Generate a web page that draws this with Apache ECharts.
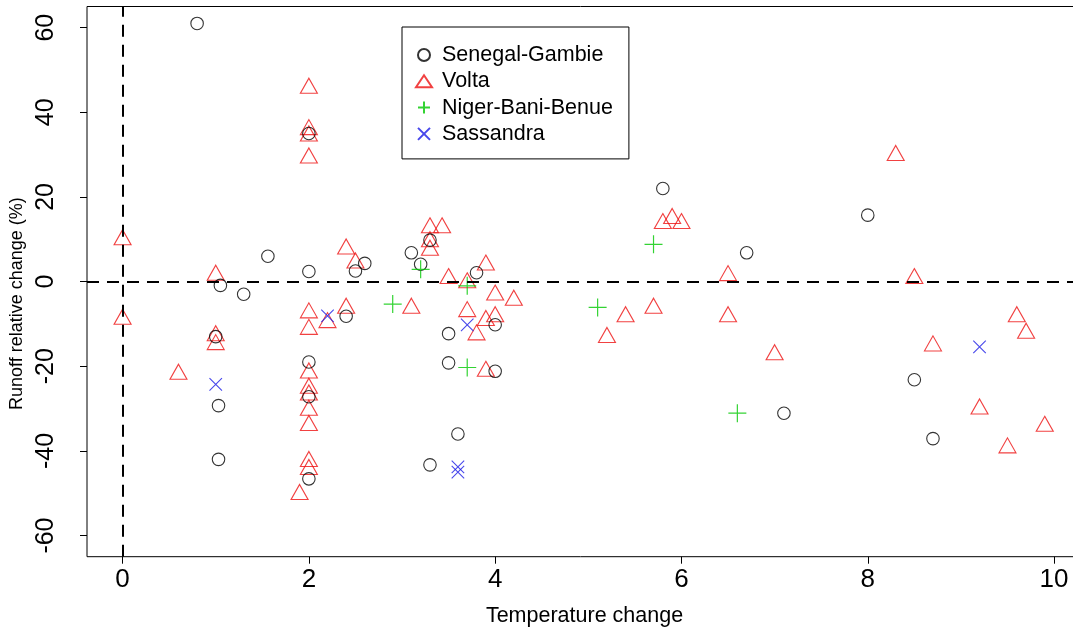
<!DOCTYPE html>
<html>
<head>
<meta charset="utf-8">
<script src="https://cdn.jsdelivr.net/npm/echarts@6/dist/echarts.min.js"></script>
<style>
html,body{margin:0;padding:0;background:#fff;}
#chart{width:1073px;height:632px;}
</style>
</head>
<body>
<div id="chart"></div>
<script>
// ---- data (temperature change, runoff relative change %) ----
const xTicks = [0, 2, 4, 6, 8, 10];
const yTicks = [-60, -40, -20, 0, 20, 40, 60];

const senegalX = [0.8, 2, 1.56, 2, 2.6, 2.5, 1.05, 1.3, 1, 1.03, 1.03, 2, 2, 2, 2.4, 3.1, 3.3, 3.2, 3.8, 4, 3.5, 3.5, 4, 3.6, 3.3, 5.8, 6.7, 7.1, 8, 8.5, 8.7];
const senegalY = [61, 35, 6, 2.4, 4.3, 2.5, -0.9, -3, -13, -29.3, -42, -19, -27.2, -46.6, -8.2, 6.8, 9.8, 4.1, 2.1, -10.2, -12.3, -19.2, -21.2, -36, -43.3, 22, 6.8, -31.1, 15.7, -23.2, -37.1];

const voltaX = [2, 2, 2, 2, 0, 2.4, 2.5, 1, 0, 1, 1, 0.6, 2, 2, 2, 2, 2, 2, 2, 2, 2, 1.9, 2.2, 2.4, 3.3, 3.43, 3.3, 3.3, 3.5, 3.7, 3.9, 3.1, 4, 4.2, 3.7, 3.8, 3.9, 4, 3.9, 5.8, 5.9, 6, 6.5, 5.4, 5.7, 5.2, 6.5, 7, 8.3, 8.5, 9.6, 9.7, 8.7, 9.2, 9.9, 9.5];
const voltaY = [46.3, 36.5, 35, 29.8, 10.5, 8.3, 5, 2.1, -8.3, -12.2, -14.3, -21.3, -6.8, -10.7, -21, -24.6, -26.2, -29.8, -33.4, -41.9, -43.8, -49.7, -9.1, -5.7, 13.3, 13.3, 10, 8, 1.3, 0.3, 4.5, -5.7, -2.6, -3.8, -6.5, -12, -8.6, -7.7, -20.6, 14.3, 15.5, 14.3, 2, -7.7, -5.7, -12.6, -7.7, -16.7, 30.4, 1.3, -7.7, -11.6, -14.6, -29.5, -33.6, -38.7];

const nigerX = [3.2, 3.7, 2.9, 5.1, 5.7, 3.7, 6.6];
const nigerY = [2.9, -1, -5.3, -6.1, 8.8, -20.3, -31.1];

const sassandraX = [1, 2.2, 3.7, 3.6, 3.6, 9.2];
const sassandraY = [-24.3, -8.1, -10.2, -43.8, -45, -15.4];

const seriesNames = ['Senegal-Gambie', 'Volta', 'Niger-Bani-Benue', 'Sassandra'];
const axisTitles = { x: 'Temperature change', y: 'Runoff relative change (%)' };

function zip(xs, ys) { return xs.map((x, i) => [x, ys[i]]); }

const FONT = '"Liberation Sans", Arial, sans-serif';
const chart = echarts.init(document.getElementById('chart'), null, { renderer: 'canvas' });

const option = {
  animation: false,
  backgroundColor: '#fff',
  grid: {
    left: 87, top: 6.5, width: 995, height: 550.2,
    outerBoundsMode: 'none',
    containLabel: false,
    show: true, borderColor: '#000', borderWidth: 1, backgroundColor: 'transparent'
  },
  legend: {
    left: 402, top: 27,
    orient: 'vertical',
    data: seriesNames,
    itemWidth: 16, itemHeight: 12,
    itemGap: 4.3,
    padding: [17, 16, 14, 13],
    borderColor: '#000', borderWidth: 1, borderRadius: 0,
    backgroundColor: '#fff',
    textStyle: { fontFamily: FONT, fontSize: 21.5, color: '#000', lineHeight: 22, padding: [0, 0, 0, 5] }
  },
  xAxis: {
    type: 'value', min: -0.382, max: 10.3,
    name: axisTitles.x, nameLocation: 'middle', nameGap: 48,
    nameTextStyle: { fontFamily: FONT, fontSize: 21.5, color: '#000' },
    axisLine: { show: false, onZero: false },
    splitLine: { show: false },
    axisTick: { show: true, customValues: xTicks, length: 7, lineStyle: { color: '#000' } },
    axisLabel: { customValues: xTicks, fontFamily: FONT, fontSize: 26, color: '#000', margin: 10 }
  },
  yAxis: {
    type: 'value', min: -65, max: 65,
    name: axisTitles.y, nameLocation: 'middle', nameGap: 46, nameRotate: 90,
    nameTextStyle: { fontFamily: FONT, fontSize: 18, color: '#000', padding: [0, 44, 0, 0] },
    axisLine: { show: false, onZero: false },
    splitLine: { show: false },
    axisTick: { show: true, customValues: yTicks, length: 7, lineStyle: { color: '#000' } },
    axisLabel: { customValues: yTicks, rotate: 90, fontFamily: FONT, fontSize: 25, color: '#000', margin: 28 }
  },
  series: [
    {
      name: seriesNames[0], type: 'scatter', data: zip(senegalX, senegalY),
      symbol: 'circle', symbolSize: 12.5,
      itemStyle: { color: 'rgba(0,0,0,0)', borderColor: '#000', borderWidth: 1.1 },
      markLine: {
        silent: true, symbol: 'none', label: { show: false },
        lineStyle: { color: '#000', width: 2, type: [12, 8] },
        data: [{ xAxis: 0 }, { yAxis: 0 }]
      },
      z: 3
    },
    {
      name: seriesNames[1], type: 'scatter', data: zip(voltaX, voltaY),
      symbol: 'triangle', symbolSize: [17, 15],
      itemStyle: { color: 'rgba(0,0,0,0)', borderColor: '#ee1111', borderWidth: 1.1 },
      z: 2
    },
    {
      name: seriesNames[2], type: 'scatter', data: zip(nigerX, nigerY),
      symbol: 'path://M5 0L5 10M0 5L10 5', symbolSize: 18,
      itemStyle: { color: 'rgba(0,0,0,0)', borderColor: '#00c800', borderWidth: 1.2 },
      z: 4
    },
    {
      name: seriesNames[3], type: 'scatter', data: zip(sassandraX, sassandraY),
      symbol: 'path://M0 0L10 10M10 0L0 10', symbolSize: 12.5,
      itemStyle: { color: 'rgba(0,0,0,0)', borderColor: '#1a1ae6', borderWidth: 1.1 },
      z: 4
    }
  ]
};
chart.setOption(option);
</script>
</body>
</html>
